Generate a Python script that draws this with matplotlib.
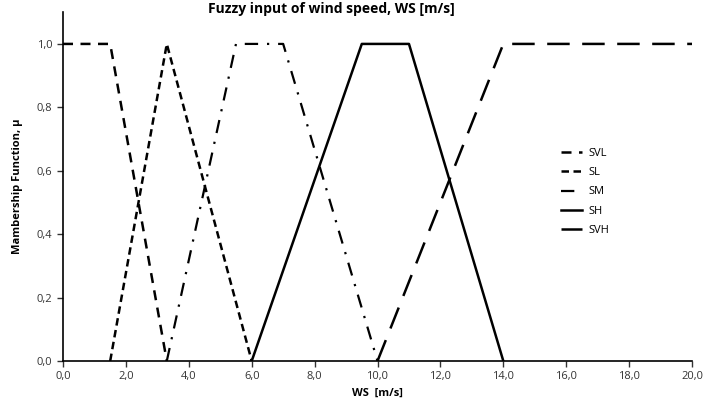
from matplotlib import pyplot as plt
from matplotlib.ticker import FuncFormatter

# membership function breakpoints (wind speed, mu)
svl_x = [0, 1.5, 3.3]
svl_y = [1, 1, 0]
sl_x = [1.5, 3.3, 6.0]
sl_y = [0, 1, 0]
sm_x = [3.3, 5.5, 7.0, 10.0]
sm_y = [0, 1, 1, 0]
sh_x = [6.0, 9.5, 11.0, 14.0]
sh_y = [0, 1, 1, 0]
svh_x = [10.0, 14.0, 20.0]
svh_y = [0, 1, 1]

plt.rcParams['font.family'] = ['Open Sans', 'DejaVu Sans']

fig = plt.figure(figsize=(7.04, 4.07), dpi=100)
ax = fig.add_axes([0.0895, 0.113, 0.8935, 0.857])

ax.plot(svl_x, svl_y, color='black', lw=1.8, dashes=(4, 3), label='SVL')
ax.plot(sl_x, sl_y, color='black', lw=1.8, dashes=(3, 1.8), label='SL')
ax.plot(sm_x, sm_y, color='black', lw=1.6, dashes=(6, 4, 1, 4), label='SM')
ax.plot(sh_x, sh_y, color='black', lw=1.8, label='SH')
ax.plot(svh_x, svh_y, color='black', lw=1.8, dashes=(9, 5), label='SVH')

ax.set_xlim(0, 20)
ax.set_ylim(0, 1.1)
ax.set_xticks([0, 2, 4, 6, 8, 10, 12, 14, 16, 18, 20])
ax.set_yticks([0, 0.2, 0.4, 0.6, 0.8, 1.0])
comma = FuncFormatter(lambda v, p: f"{v:.1f}".replace('.', ','))
ax.xaxis.set_major_formatter(comma)
ax.yaxis.set_major_formatter(comma)
ax.tick_params(labelsize=8, length=4, width=1, colors='#333333')
ax.spines['top'].set_visible(False)
ax.spines['right'].set_visible(False)
for s in ['left', 'bottom']:
    ax.spines[s].set_linewidth(1.2)

ax.set_xlabel('WS  [m/s]', fontsize=8, fontweight='bold', labelpad=4)
ax.set_ylabel('Mambership Function, μ', fontsize=8, fontweight='bold', labelpad=10)
fig.text(0.47, 0.978, 'Fuzzy input of wind speed, WS [m/s]', fontsize=10,
         fontweight='bold', ha='center', va='center')

ax.legend(loc='upper left', bbox_to_anchor=(0.775, 0.64), frameon=False,
          fontsize=8, handlelength=1.9, handletextpad=0.6, labelspacing=0.75)

plt.savefig('out.png', dpi=100)
